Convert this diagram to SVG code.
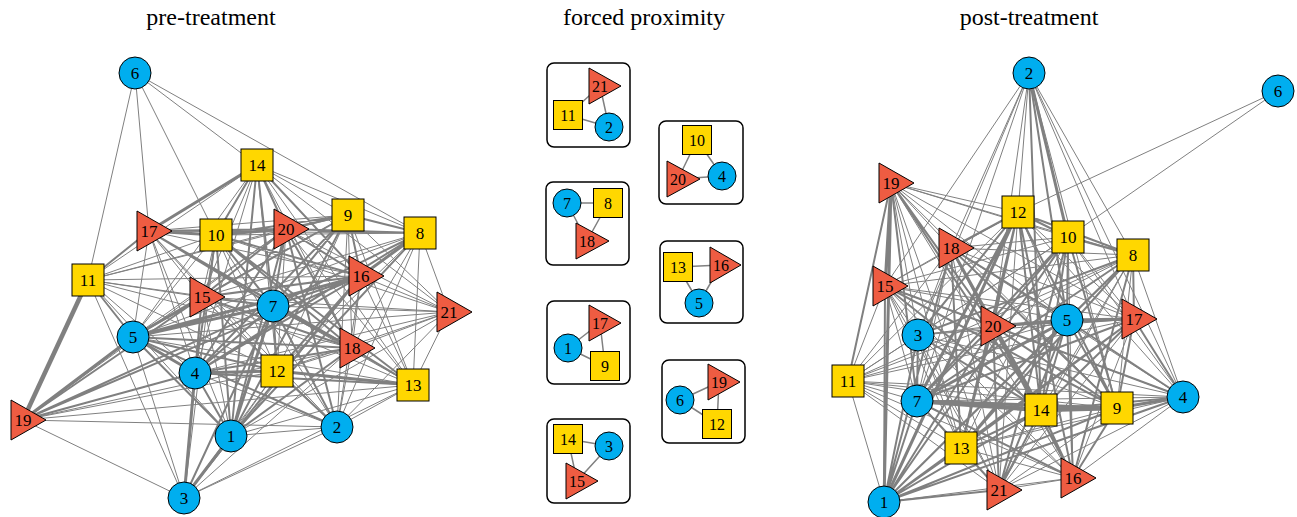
<svg xmlns="http://www.w3.org/2000/svg" width="1297" height="517" viewBox="0 0 1297 517">
<style>
.e1{stroke:#808080;stroke-width:1;fill:none}
.e2{stroke:#808080;stroke-width:2;fill:none}
.e3{stroke:#808080;stroke-width:3;fill:none}
.e4{stroke:#808080;stroke-width:4.5;fill:none}
.em{stroke:#808080;stroke-width:1.5;fill:none}
.c{fill:#00AEEF;stroke:#000;stroke-width:1}
.s{fill:#FFD700;stroke:#000;stroke-width:1}
.t{fill:#EE5C42;stroke:#000;stroke-width:1}
.box{fill:#fff;stroke:#000;stroke-width:1.5}
text{font-family:"Liberation Serif","Times New Roman",serif;fill:#000;text-anchor:middle}
.l{font-size:17px}
.lm{font-size:16px}
.title{font-size:24px}
</style>
<rect width="1297" height="517" fill="#fff"/>
<g id="titles">
<text class="title" x="211" y="25">pre-treatment</text>
<text class="title" x="644" y="25">forced proximity</text>
<text class="title" x="1029" y="25">post-treatment</text>
</g>
<g id="connectors">
<path class="e1" d="M135 73L88 280M135 73L149 231M135 73L216 235M135 73L257 165M135 73L420 233M23 420L277 371M23 420L352 348M23 420L413 385M23 420L337 427M23 420L184 498M23 420L286 229M184 498L133 337M184 498L88 280M184 498L202 297M184 498L277 371M184 498L337 427M184 498L352 348M184 498L413 385M184 498L361 276M184 498L216 235M88 280L216 235M88 280L257 165M88 280L202 297M88 280L273 306M88 280L195 373M88 280L361 276M88 280L352 348M88 280L277 371M88 280L231 436M88 280L286 229M88 280L348 215M149 231L348 215M149 231L202 297M149 231L133 337M149 231L195 373M149 231L277 371M149 231L361 276M149 231L231 436M149 231L413 385M149 231L420 233M149 231L337 427M257 165L348 215M257 165L420 233M257 165L202 297M257 165L133 337M257 165L195 373M257 165L277 371M257 165L352 348M257 165L449 312M257 165L413 385M216 235L420 233M216 235L202 297M216 235L133 337M216 235L277 371M216 235L449 312M216 235L337 427M286 229L133 337M286 229L277 371M286 229L449 312M286 229L413 385M348 215L202 297M348 215L277 371M348 215L352 348M348 215L449 312M348 215L413 385M348 215L337 427M420 233L202 297M420 233L133 337M420 233L277 371M420 233L352 348M420 233L449 312M420 233L413 385M420 233L337 427M361 276L352 348M361 276L449 312M361 276L413 385M361 276L337 427M202 297L277 371M202 297L231 436M202 297L449 312M202 297L413 385M202 297L337 427M273 306L449 312M273 306L413 385M133 337L449 312M133 337L413 385M449 312L352 348M449 312L413 385M449 312L277 371M449 312L195 373M449 312L231 436M449 312L337 427M352 348L277 371M352 348L337 427M195 373L337 427M277 371L231 436M413 385L231 436M413 385L337 427M231 436L337 427"/>
<path class="e2" d="M23 420L273 306M23 420L202 297M23 420L195 373M23 420L361 276M184 498L273 306M88 280L149 231M88 280L133 337M149 231L286 229M149 231L273 306M149 231L352 348M257 165L216 235M257 165L286 229M257 165L361 276M257 165L273 306M257 165L231 436M216 235L348 215M216 235L361 276M216 235L273 306M216 235L195 373M216 235L352 348M216 235L231 436M216 235L413 385M286 229L348 215M286 229L420 233M286 229L361 276M286 229L202 297M286 229L273 306M286 229L195 373M286 229L352 348M286 229L231 436M286 229L337 427M348 215L420 233M348 215L361 276M348 215L273 306M348 215L133 337M348 215L195 373M348 215L231 436M420 233L273 306M420 233L195 373M420 233L231 436M361 276L202 297M361 276L273 306M361 276L195 373M361 276L277 371M361 276L231 436M202 297L273 306M202 297L195 373M202 297L352 348M273 306L195 373M273 306L277 371M273 306L337 427M133 337L277 371M133 337L352 348M133 337L231 436M133 337L337 427M352 348L195 373M352 348L413 385M352 348L231 436M195 373L231 436M195 373L413 385M277 371L337 427"/>
<path class="e3" d="M23 420L133 337M184 498L195 373M184 498L231 436M149 231L257 165M149 231L216 235M216 235L286 229M420 233L361 276M361 276L133 337M202 297L133 337M273 306L133 337M273 306L352 348M273 306L231 436M133 337L195 373M195 373L277 371M277 371L413 385"/>
<path class="e4" d="M23 420L88 280"/>
<path class="e1" d="M1278 91L1018 212M1278 91L1068 237M1029 73L951 248M1029 73L885 286M1029 73L918 335M1029 73L917 401M1029 73L1018 212M1029 73L1133 255M1029 73L1134 319M1029 73L1183 397M1029 73L1117 408M1029 73L993 326M891 183L1018 212M891 183L1068 237M891 183L1133 255M891 183L951 248M891 183L918 335M891 183L1067 320M891 183L961 448M891 183L1117 408M891 183L1134 319M891 183L999 490M891 183L1073 478M1018 212L885 286M1018 212L1067 320M1018 212L848 381M1018 212L1134 319M1018 212L1183 397M1018 212L999 490M1068 237L951 248M1068 237L885 286M1068 237L918 335M1068 237L848 381M1068 237L961 448M1068 237L1134 319M1068 237L1183 397M1068 237L1073 478M951 248L1133 255M951 248L885 286M951 248L918 335M951 248L1134 319M951 248L917 401M951 248L848 381M951 248L1183 397M951 248L999 490M1133 255L885 286M1133 255L993 326M1133 255L848 381M1133 255L1041 410M1133 255L1117 408M1133 255L1183 397M1133 255L999 490M885 286L918 335M885 286L1067 320M885 286L1134 319M885 286L917 401M885 286L848 381M885 286L961 448M885 286L1183 397M885 286L999 490M885 286L1073 478M993 326L918 335M993 326L848 381M1067 320L918 335M1067 320L848 381M1134 319L918 335M1134 319L848 381M1134 319L999 490M1134 319L1073 478M918 335L848 381M918 335L961 448M918 335L1117 408M918 335L1183 397M918 335L999 490M918 335L1073 478M848 381L917 401M848 381L1041 410M848 381L961 448M848 381L884 502M848 381L1117 408M848 381L1183 397M848 381L999 490M848 381L1073 478M917 401L1183 397M917 401L999 490M1117 408L961 448M1117 408L999 490M1183 397L961 448M1183 397L999 490M1183 397L1073 478M961 448L1073 478M884 502L1073 478M999 490L1073 478"/>
<path class="e2" d="M1029 73L1067 320M1029 73L1041 410M891 183L848 381M891 183L917 401M891 183L993 326M891 183L1041 410M1018 212L951 248M1018 212L1068 237M1018 212L1133 255M1018 212L918 335M1018 212L993 326M1018 212L1041 410M1018 212L961 448M1018 212L1117 408M1018 212L1073 478M1068 237L1133 255M1068 237L993 326M1068 237L1067 320M1068 237L917 401M1068 237L1041 410M1068 237L884 502M1068 237L1117 408M1068 237L999 490M951 248L993 326M951 248L1067 320M951 248L961 448M951 248L884 502M951 248L1117 408M951 248L1073 478M1133 255L918 335M1133 255L1067 320M1133 255L1134 319M1133 255L917 401M1133 255L961 448M1133 255L884 502M1133 255L1073 478M885 286L993 326M885 286L1041 410M885 286L884 502M885 286L1117 408M993 326L1134 319M993 326L917 401M993 326L961 448M993 326L884 502M993 326L1117 408M993 326L1183 397M993 326L999 490M993 326L1073 478M1067 320L1041 410M1067 320L961 448M1067 320L884 502M1067 320L1117 408M1067 320L1183 397M1067 320L999 490M1067 320L1073 478M1134 319L917 401M1134 319L1041 410M1134 319L961 448M1134 319L884 502M1134 319L1117 408M1134 319L1183 397M918 335L917 401M918 335L1041 410M918 335L884 502M917 401L961 448M917 401L884 502M917 401L1073 478M1041 410L1183 397M1041 410L961 448M1041 410L884 502M1041 410L999 490M1041 410L1073 478M1117 408L884 502M1117 408L1073 478M1183 397L884 502M961 448L884 502M961 448L999 490M884 502L999 490"/>
<path class="e3" d="M1029 73L1068 237M891 183L885 286M891 183L884 502M1018 212L917 401M1018 212L884 502M951 248L1041 410M993 326L1067 320M993 326L1041 410M1067 320L1134 319M1067 320L917 401M917 401L1117 408M1117 408L1183 397"/>
<path class="e4" d="M917 401L1041 410M1041 410L1117 408"/>
</g>
<g id="boxes">
<rect class="box" x="547" y="63" width="83" height="84" rx="7"/>
<rect class="box" x="659" y="121" width="84" height="83" rx="7"/>
<rect class="box" x="546" y="182" width="83" height="83" rx="7"/>
<rect class="box" x="660" y="241" width="83" height="82" rx="7"/>
<rect class="box" x="547" y="301" width="83" height="83" rx="7"/>
<rect class="box" x="662" y="360" width="83" height="83" rx="7"/>
<rect class="box" x="547" y="419" width="83" height="84" rx="7"/>
</g>
<g id="connectors-mid">
<path class="em" d="M568 115L600 86M600 86L609 127M568 115L609 127M697 140L678 179M697 140L722 176M678 179L722 176M567 203L608 203M567 203L587 241M608 203L587 241M678 267L721 265M678 267L699 303M721 265L699 303M568 348L600 323M600 323L605 366M568 348L605 366M680 400L719 382M719 382L717 424M680 400L717 424M568 439L609 446M568 439L577 481M609 446L577 481"/>
</g>
<g id="pre-6"><circle class="c" cx="135" cy="73" r="16"/><text class="l" x="135" y="79">6</text></g>
<g id="pre-14"><rect class="s" x="241" y="149" width="32" height="32"/><text class="l" x="257" y="171">14</text></g>
<g id="pre-17"><path class="t" d="M137 211L172 231L137 251Z"/><text class="l" x="149" y="237">17</text></g>
<g id="pre-10"><rect class="s" x="200" y="219" width="32" height="32"/><text class="l" x="216" y="241">10</text></g>
<g id="pre-20"><path class="t" d="M274 209L309 229L274 249Z"/><text class="l" x="286" y="235">20</text></g>
<g id="pre-9"><rect class="s" x="332" y="199" width="32" height="32"/><text class="l" x="348" y="221">9</text></g>
<g id="pre-8"><rect class="s" x="404" y="217" width="32" height="32"/><text class="l" x="420" y="239">8</text></g>
<g id="pre-11"><rect class="s" x="72" y="264" width="32" height="32"/><text class="l" x="88" y="286">11</text></g>
<g id="pre-16"><path class="t" d="M349 256L384 276L349 296Z"/><text class="l" x="361" y="282">16</text></g>
<g id="pre-15"><path class="t" d="M190 277L225 297L190 317Z"/><text class="l" x="202" y="303">15</text></g>
<g id="pre-7"><circle class="c" cx="273" cy="306" r="16"/><text class="l" x="273" y="312">7</text></g>
<g id="pre-21"><path class="t" d="M437 292L472 312L437 332Z"/><text class="l" x="449" y="318">21</text></g>
<g id="pre-5"><circle class="c" cx="133" cy="337" r="16"/><text class="l" x="133" y="343">5</text></g>
<g id="pre-18"><path class="t" d="M340 328L375 348L340 368Z"/><text class="l" x="352" y="354">18</text></g>
<g id="pre-4"><circle class="c" cx="195" cy="373" r="16"/><text class="l" x="195" y="379">4</text></g>
<g id="pre-12"><rect class="s" x="261" y="355" width="32" height="32"/><text class="l" x="277" y="377">12</text></g>
<g id="pre-13"><rect class="s" x="397" y="369" width="32" height="32"/><text class="l" x="413" y="391">13</text></g>
<g id="pre-19"><path class="t" d="M11 400L46 420L11 440Z"/><text class="l" x="23" y="426">19</text></g>
<g id="pre-1"><circle class="c" cx="231" cy="436" r="16"/><text class="l" x="231" y="442">1</text></g>
<g id="pre-2"><circle class="c" cx="337" cy="427" r="16"/><text class="l" x="337" y="433">2</text></g>
<g id="pre-3"><circle class="c" cx="184" cy="498" r="16"/><text class="l" x="184" y="504">3</text></g>
<g id="mid-11"><rect class="s" x="553.5" y="100.5" width="29" height="29"/><text class="lm" x="568" y="120.5">11</text></g>
<g id="mid-21"><path class="t" d="M589 68L621 86L589 104Z"/><text class="lm" x="600" y="91.5">21</text></g>
<g id="mid-2"><circle class="c" cx="609" cy="127" r="14"/><text class="lm" x="609" y="132.5">2</text></g>
<g id="mid-10"><rect class="s" x="682.5" y="125.5" width="29" height="29"/><text class="lm" x="697" y="145.5">10</text></g>
<g id="mid-20"><path class="t" d="M667 161L700 179L667 197Z"/><text class="lm" x="678" y="184.5">20</text></g>
<g id="mid-4"><circle class="c" cx="722" cy="176" r="14"/><text class="lm" x="722" y="181.5">4</text></g>
<g id="mid-7"><circle class="c" cx="567" cy="203" r="14"/><text class="lm" x="567" y="208.5">7</text></g>
<g id="mid-8"><rect class="s" x="593.5" y="188.5" width="29" height="29"/><text class="lm" x="608" y="208.5">8</text></g>
<g id="mid-18"><path class="t" d="M576 223L609 241L576 259Z"/><text class="lm" x="587" y="246.5">18</text></g>
<g id="mid-13"><rect class="s" x="663.5" y="252.5" width="29" height="29"/><text class="lm" x="678" y="272.5">13</text></g>
<g id="mid-16"><path class="t" d="M710 247L741 265L710 283Z"/><text class="lm" x="721" y="270.5">16</text></g>
<g id="mid-5"><circle class="c" cx="699" cy="303" r="14"/><text class="lm" x="699" y="308.5">5</text></g>
<g id="mid-17"><path class="t" d="M589 305L621 323L589 341Z"/><text class="lm" x="600" y="328.5">17</text></g>
<g id="mid-1"><circle class="c" cx="568" cy="348" r="14"/><text class="lm" x="568" y="353.5">1</text></g>
<g id="mid-9"><rect class="s" x="590.5" y="351.5" width="29" height="29"/><text class="lm" x="605" y="371.5">9</text></g>
<g id="mid-6"><circle class="c" cx="680" cy="400" r="14"/><text class="lm" x="680" y="405.5">6</text></g>
<g id="mid-19"><path class="t" d="M708 364L740 382L708 400Z"/><text class="lm" x="719" y="387.5">19</text></g>
<g id="mid-12"><rect class="s" x="702.5" y="409.5" width="29" height="29"/><text class="lm" x="717" y="429.5">12</text></g>
<g id="mid-14"><rect class="s" x="553.5" y="424.5" width="29" height="29"/><text class="lm" x="568" y="444.5">14</text></g>
<g id="mid-3"><circle class="c" cx="609" cy="446" r="14"/><text class="lm" x="609" y="451.5">3</text></g>
<g id="mid-15"><path class="t" d="M566 463L598 481L566 499Z"/><text class="lm" x="577" y="486.5">15</text></g>
<g id="post-2"><circle class="c" cx="1029" cy="73" r="16"/><text class="l" x="1029" y="79">2</text></g>
<g id="post-6"><circle class="c" cx="1278" cy="91" r="16"/><text class="l" x="1278" y="97">6</text></g>
<g id="post-19"><path class="t" d="M879 163L914 183L879 203Z"/><text class="l" x="891" y="189">19</text></g>
<g id="post-12"><rect class="s" x="1002" y="196" width="32" height="32"/><text class="l" x="1018" y="218">12</text></g>
<g id="post-10"><rect class="s" x="1052" y="221" width="32" height="32"/><text class="l" x="1068" y="243">10</text></g>
<g id="post-18"><path class="t" d="M939 228L974 248L939 268Z"/><text class="l" x="951" y="254">18</text></g>
<g id="post-8"><rect class="s" x="1117" y="239" width="32" height="32"/><text class="l" x="1133" y="261">8</text></g>
<g id="post-15"><path class="t" d="M873 266L908 286L873 306Z"/><text class="l" x="885" y="292">15</text></g>
<g id="post-20"><path class="t" d="M981 306L1016 326L981 346Z"/><text class="l" x="993" y="332">20</text></g>
<g id="post-5"><circle class="c" cx="1067" cy="320" r="16"/><text class="l" x="1067" y="326">5</text></g>
<g id="post-17"><path class="t" d="M1122 299L1157 319L1122 339Z"/><text class="l" x="1134" y="325">17</text></g>
<g id="post-3"><circle class="c" cx="918" cy="335" r="16"/><text class="l" x="918" y="341">3</text></g>
<g id="post-11"><rect class="s" x="832" y="365" width="32" height="32"/><text class="l" x="848" y="387">11</text></g>
<g id="post-7"><circle class="c" cx="917" cy="401" r="16"/><text class="l" x="917" y="407">7</text></g>
<g id="post-14"><rect class="s" x="1025" y="394" width="32" height="32"/><text class="l" x="1041" y="416">14</text></g>
<g id="post-9"><rect class="s" x="1101" y="392" width="32" height="32"/><text class="l" x="1117" y="414">9</text></g>
<g id="post-4"><circle class="c" cx="1183" cy="397" r="16"/><text class="l" x="1183" y="403">4</text></g>
<g id="post-13"><rect class="s" x="945" y="432" width="32" height="32"/><text class="l" x="961" y="454">13</text></g>
<g id="post-21"><path class="t" d="M987 470L1022 490L987 510Z"/><text class="l" x="999" y="496">21</text></g>
<g id="post-16"><path class="t" d="M1061 458L1096 478L1061 498Z"/><text class="l" x="1073" y="484">16</text></g>
<g id="post-1"><circle class="c" cx="884" cy="502" r="16"/><text class="l" x="884" y="508">1</text></g>
</svg>
